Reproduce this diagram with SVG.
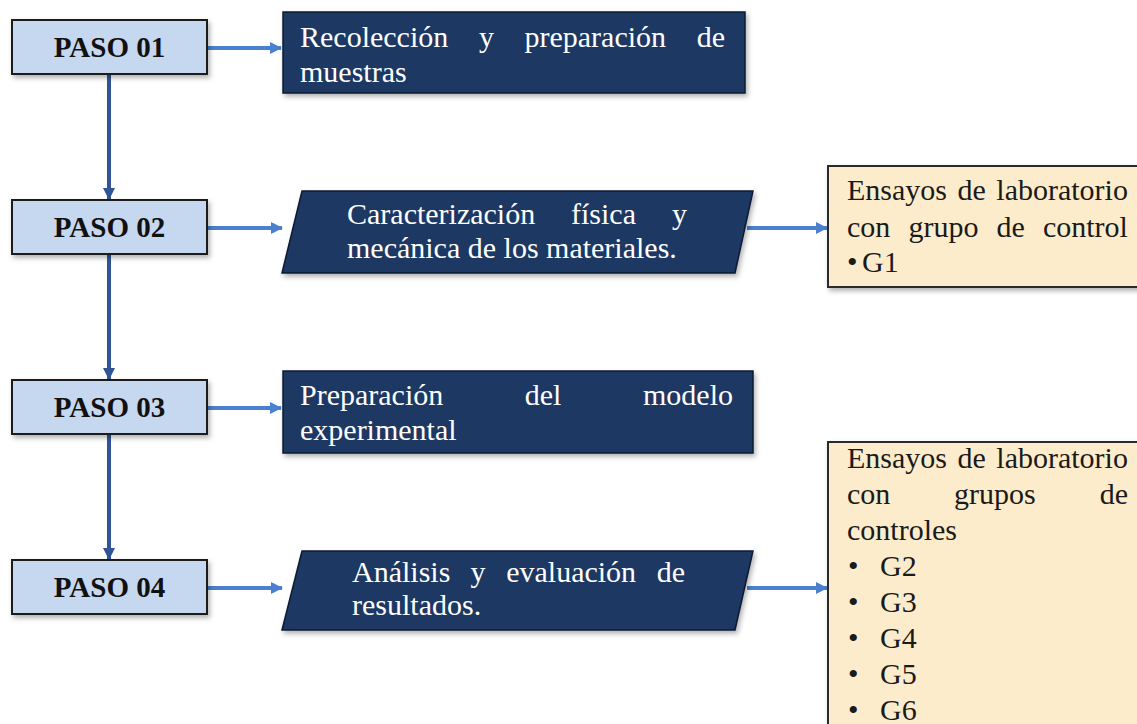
<svg xmlns="http://www.w3.org/2000/svg" width="1137" height="724" viewBox="0 0 1137 724">
<defs>
<style>
.paso{fill:#c6d7f0;stroke:#1e1e1e;stroke-width:2}
.dark{fill:#1b3764;stroke:#0d1a30;stroke-width:1.5}
.note{fill:#fdeccb;stroke:#2a2a2a;stroke-width:2}
text{font-family:'Liberation Serif','DejaVu Serif',serif}
.pt{font-size:29px;font-weight:bold;fill:#111;text-anchor:middle}
.wt{font-size:30px;fill:#ffffff}
.bt{font-size:30px;fill:#1a1a1a}
.v{stroke:#2f5597;stroke-width:4;fill:none}
.h{stroke:#4a80cf;stroke-width:4;fill:none}
</style>
<filter id="sh" x="-10%" y="-20%" width="130%" height="160%">
<feDropShadow dx="2" dy="3" stdDeviation="2.5" flood-color="#000" flood-opacity="0.3"/>
</filter>
<marker id="av" markerWidth="14" markerHeight="12" refX="11" refY="6" orient="auto" markerUnits="userSpaceOnUse">
<path d="M0,0 L12,6 L0,12 Z" fill="#2f5597"/>
</marker>
<marker id="ah" markerWidth="14" markerHeight="12" refX="11" refY="6" orient="auto" markerUnits="userSpaceOnUse">
<path d="M0,0 L12,6 L0,12 Z" fill="#4a80cf"/>
</marker>
</defs>
<rect width="1137" height="724" fill="#ffffff"/>

<g id="connectors">
<line class="v" x1="109" y1="75" x2="109" y2="199" marker-end="url(#av)"/>
<line class="v" x1="109" y1="255" x2="109" y2="379" marker-end="url(#av)"/>
<line class="v" x1="109" y1="435" x2="109" y2="559" marker-end="url(#av)"/>
<line class="h" x1="208" y1="48" x2="281" y2="48" marker-end="url(#ah)"/>
<line class="h" x1="208" y1="228" x2="282" y2="228" marker-end="url(#ah)"/>
<line class="h" x1="208" y1="408" x2="281" y2="408" marker-end="url(#ah)"/>
<line class="h" x1="208" y1="588" x2="282" y2="588" marker-end="url(#ah)"/>
<line class="h" x1="747" y1="228" x2="827" y2="228" marker-end="url(#ah)"/>
<line class="h" x1="747" y1="588" x2="827" y2="588" marker-end="url(#ah)"/>
</g>

<g id="paso01">
<rect class="paso" x="12" y="20" width="195" height="54" filter="url(#sh)"/>
<text class="pt" x="109.5" y="57" font-family="Liberation Serif, serif">PASO 01</text>
</g>
<g id="paso02">
<rect class="paso" x="12" y="200" width="195" height="54" filter="url(#sh)"/>
<text class="pt" x="109.5" y="237" font-family="Liberation Serif, serif">PASO 02</text>
</g>
<g id="paso03">
<rect class="paso" x="12" y="380" width="195" height="54" filter="url(#sh)"/>
<text class="pt" x="109.5" y="417" font-family="Liberation Serif, serif">PASO 03</text>
</g>
<g id="paso04">
<rect class="paso" x="12" y="560" width="195" height="54" filter="url(#sh)"/>
<text class="pt" x="109.5" y="597" font-family="Liberation Serif, serif">PASO 04</text>
</g>

<g id="recoleccion">
<rect class="dark" x="283" y="12" width="462" height="81" filter="url(#sh)"/>
<text class="wt" y="47"><tspan x="300">Recolección</tspan><tspan x="479">y</tspan><tspan x="524.5">preparación</tspan><tspan x="696.7">de</tspan></text>
<text class="wt" x="300" y="82">muestras</text>
</g>

<g id="caracterizacion">
<polygon class="dark" points="302,191 753,191 735,273 282,273" filter="url(#sh)"/>
<text class="wt" y="224"><tspan x="347">Caracterización</tspan><tspan x="571">física</tspan><tspan x="672">y</tspan></text>
<text class="wt" x="347" y="258">mecánica de los materiales.</text>
</g>

<g id="preparacion">
<rect class="dark" x="283" y="371" width="470" height="82" filter="url(#sh)"/>
<text class="wt" y="405"><tspan x="300">Preparación</tspan><tspan x="524.8">del</tspan><tspan x="643">modelo</tspan></text>
<text class="wt" x="300" y="440">experimental</text>
</g>

<g id="analisis">
<polygon class="dark" points="302,551 753,551 735,630 282,630" filter="url(#sh)"/>
<text class="wt" y="582"><tspan x="352">Análisis</tspan><tspan x="470.6">y</tspan><tspan x="506.2">evaluación</tspan><tspan x="656.8">de</tspan></text>
<text class="wt" x="352" y="615">resultados.</text>
</g>

<g id="ensayos1">
<rect class="note" x="828" y="166" width="330" height="121" filter="url(#sh)"/>
<text class="bt" y="200"><tspan x="847">Ensayos</tspan><tspan x="957.5">de</tspan><tspan x="996.3">laboratorio</tspan></text>
<text class="bt" y="237"><tspan x="847">con</tspan><tspan x="908.4">grupo</tspan><tspan x="996.5">de</tspan><tspan x="1042.9">control</tspan></text>
<text class="bt" y="272"><tspan x="847">•</tspan><tspan x="862">G1</tspan></text>
</g>

<g id="ensayos2">
<rect class="note" x="828" y="442" width="330" height="300" filter="url(#sh)"/>
<text class="bt" y="468"><tspan x="847">Ensayos</tspan><tspan x="957.5">de</tspan><tspan x="996.3">laboratorio</tspan></text>
<text class="bt" y="504"><tspan x="847">con</tspan><tspan x="954.1">grupos</tspan><tspan x="1099.7">de</tspan></text>
<text class="bt" x="847" y="540">controles</text>
<text class="bt" y="576"><tspan x="848">•</tspan><tspan x="880">G2</tspan></text>
<text class="bt" y="612"><tspan x="848">•</tspan><tspan x="880">G3</tspan></text>
<text class="bt" y="648"><tspan x="848">•</tspan><tspan x="880">G4</tspan></text>
<text class="bt" y="684"><tspan x="848">•</tspan><tspan x="880">G5</tspan></text>
<text class="bt" y="720"><tspan x="848">•</tspan><tspan x="880">G6</tspan></text>
</g>
</svg>
